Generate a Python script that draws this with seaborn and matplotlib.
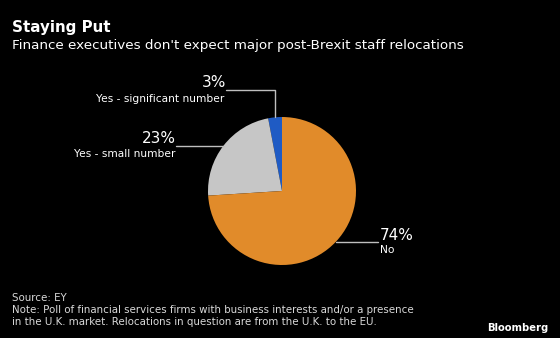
import numpy as np
import matplotlib
matplotlib.use("Agg")
import matplotlib.pyplot as plt
import seaborn as sns

labels = ["Yes - significant number", "Yes - small number", "No"]
values = [3, 23, 74]
colors = ["#1F5BC4", "#C6C6C6", "#E18B2A"]

sns.set_theme(style="dark")
plt.rcParams["font.family"] = ["DejaVu Sans"]

W, H = 560, 338
fig = plt.figure(figsize=(W / 100, H / 100), dpi=100, facecolor="black")

cx, cy, r = 282, 191, 74
ax = fig.add_axes([(cx - r) / W, (H - cy - r) / H, 2 * r / W, 2 * r / H])
ax.set_facecolor("black")
wedges, _ = ax.pie(values, colors=colors, startangle=90, counterclock=True,
                   radius=1, wedgeprops=dict(linewidth=0))
ax.set_xlim(-1, 1)
ax.set_ylim(-1, 1)
ax.set_aspect("equal")
ax.axis("off")

lc = "#BFBFBF"
def mid(w):
    a = np.deg2rad((w.theta1 + w.theta2) / 2)
    return np.cos(a), np.sin(a)

def px2d(px, py):
    return (px - cx) / r, (cy - py) / r

pct_kw = dict(color="white", fontsize=11, va="baseline")
lab_kw = dict(color="white", fontsize=7.7, va="baseline")
p = 1 / r  # one pixel in data units

# 3% label
mx, my = mid(wedges[0])
_, ty = px2d(0, 90)
ex, _ = px2d(226, 0)
ax.plot([mx, mx, ex], [my, ty, ty], color=lc, lw=1, clip_on=False)
ax.text(ex, ty + 3 * p, f"{values[0]}%", ha="right", **pct_kw)
ax.text(ex - 2 * p, ty - 12 * p, labels[0], ha="right", **lab_kw)

# 23% label
mx, my = mid(wedges[1])
ex, _ = px2d(176, 0)
ax.plot([mx, ex], [my, my], color=lc, lw=1, clip_on=False)
ax.text(ex, my + 3 * p, f"{values[1]}%", ha="right", **pct_kw)
ax.text(ex, my - 11.5 * p, labels[1], ha="right", **lab_kw)

# 74% label
mx, my = mid(wedges[2])
ex, _ = px2d(378, 0)
ax.plot([mx, ex], [my, my], color=lc, lw=1, clip_on=False)
ax.text(ex + 2 * p, my + 2 * p, f"{values[2]}%", ha="left", **pct_kw)
ax.text(ex + 2 * p, my - 11 * p, labels[2], ha="left", **lab_kw)

fig.text(12 / W, 1 - 32 / H, "Staying Put", color="white", fontsize=10.9, fontweight="bold", va="baseline")
fig.text(12 / W, 1 - 49.5 / H, "Finance executives don't expect major post-Brexit staff relocations",
         color="white", fontsize=9.7, va="baseline")
fig.text(12 / W, 1 - 301 / H, "Source: EY", color="#D9D9D9", fontsize=7.35, va="baseline")
fig.text(12 / W, 1 - 313 / H, "Note: Poll of financial services firms with business interests and/or a presence",
         color="#D9D9D9", fontsize=7.35, va="baseline")
fig.text(12 / W, 1 - 325 / H, "in the U.K. market. Relocations in question are from the U.K. to the EU.",
         color="#D9D9D9", fontsize=7.35, va="baseline")
fig.text(548 / W, 1 - 331 / H, "Bloomberg", color="white", fontsize=7.2, fontweight="bold", ha="right", va="baseline")

fig.savefig("out.png", dpi=100, facecolor="black")
